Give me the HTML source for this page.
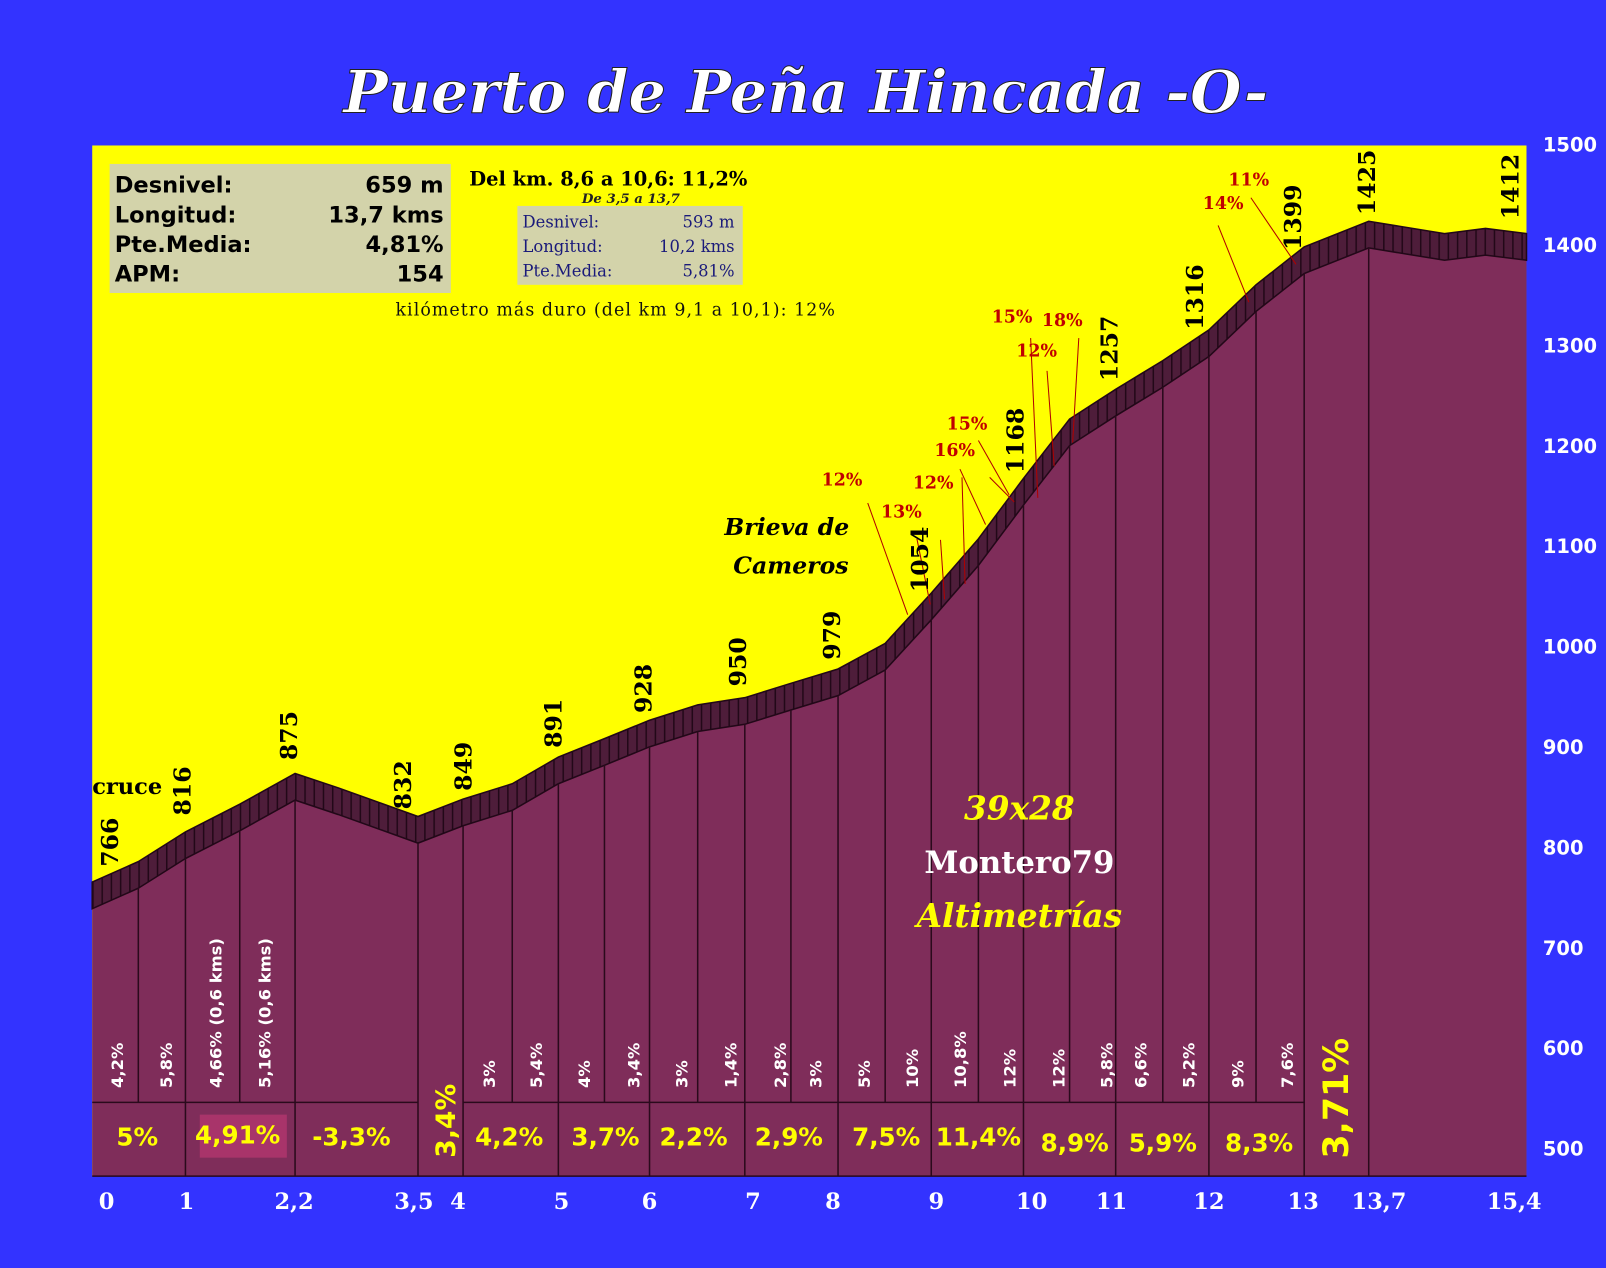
<!DOCTYPE html>
<html><head><meta charset="utf-8"><style>
html,body{margin:0;padding:0;background:#3333ff;}
svg{display:block}
</style></head><body>
<svg width="1606" height="1268" viewBox="0 0 1567.6 1237.7" xmlns="http://www.w3.org/2000/svg">
<defs>
<pattern id="st" width="9" height="40" patternUnits="userSpaceOnUse">
<rect width="9" height="40" fill="#4e1d3a"/><rect width="1.5" height="40" fill="#220818"/>
</pattern>
</defs>
<rect width="1568" height="1238" fill="#3333ff"/>
<text x="335" y="110" textLength="903" lengthAdjust="spacingAndGlyphs" font-family="DejaVu Serif,serif" font-weight="bold" font-style="italic" font-size="58" fill="#fff" stroke="#222" stroke-width="1">Puerto de Peña Hincada -O-</text>
<rect x="90" y="142" width="1400" height="1006" fill="#ffff00"/>
<polygon fill="#7f2d5a" points="90,861 135,841 181,812 234,785 288,755 330,769 408,797 452,780 500,765 545,739 590,721 634,703 681,688 727,681 772,667 818,653 864,628 909,579 955,526 999,467 1044,409 1089,380 1135,352 1180,322 1226,278 1273,241 1336,216 1410,228 1450,223 1490,228 1490,1148 90,1148"/>
<polygon fill="url(#st)" stroke="#220818" stroke-width="1.5" points="90,861 135,841 181,812 234,785 288,755 330,769 408,797 452,780 500,765 545,739 590,721 634,703 681,688 727,681 772,667 818,653 864,628 909,579 955,526 999,467 1044,409 1089,380 1135,352 1180,322 1226,278 1273,241 1336,216 1410,228 1450,223 1490,228 1490,254 1450,249 1410,254 1336,242 1273,267 1226,304 1180,348 1135,378 1089,406 1044,435 999,493 955,552 909,605 864,654 818,679 772,693 727,707 681,714 634,729 590,747 545,765 500,791 452,806 408,823 330,795 288,781 234,811 181,838 135,867 90,887"/>
<g stroke="#2a0a1c" stroke-width="1.5">
<line x1="135" y1="867" x2="135" y2="1076"/><line x1="181" y1="838" x2="181" y2="1148"/>
<line x1="234" y1="811" x2="234" y2="1076"/><line x1="288" y1="781" x2="288" y2="1148"/>
<line x1="408" y1="823" x2="408" y2="1148"/><line x1="452" y1="806" x2="452" y2="1148"/>
<line x1="500" y1="791" x2="500" y2="1076"/><line x1="545" y1="765" x2="545" y2="1148"/>
<line x1="590" y1="747" x2="590" y2="1076"/><line x1="634" y1="729" x2="634" y2="1148"/>
<line x1="681" y1="714" x2="681" y2="1076"/><line x1="727" y1="707" x2="727" y2="1148"/>
<line x1="772" y1="693" x2="772" y2="1076"/><line x1="818" y1="679" x2="818" y2="1148"/>
<line x1="864" y1="654" x2="864" y2="1076"/><line x1="909" y1="605" x2="909" y2="1148"/>
<line x1="955" y1="552" x2="955" y2="1076"/><line x1="999" y1="493" x2="999" y2="1148"/>
<line x1="1044" y1="435" x2="1044" y2="1076"/><line x1="1089" y1="406" x2="1089" y2="1148"/>
<line x1="1135" y1="378" x2="1135" y2="1076"/><line x1="1180" y1="348" x2="1180" y2="1148"/>
<line x1="1226" y1="304" x2="1226" y2="1076"/><line x1="1273" y1="267" x2="1273" y2="1148"/>
<line x1="1336" y1="242" x2="1336" y2="1148"/>
<line x1="90" y1="1076" x2="408" y2="1076"/><line x1="452" y1="1076" x2="1273" y2="1076"/>
<line x1="90" y1="1148" x2="1490" y2="1148"/>
</g>
<rect x="195" y="1088" width="85" height="42" fill="#a8346a"/>
<rect x="107" y="160" width="333" height="126" fill="#d3d3aa"/>
<g font-family="DejaVu Sans,sans-serif" font-weight="bold" font-size="22" fill="#000">
<text x="112" y="188">Desnivel:</text><text x="433" y="188" text-anchor="end">659 m</text>
<text x="112" y="217">Longitud:</text><text x="433" y="217" text-anchor="end">13,7 kms</text>
<text x="112" y="246">Pte.Media:</text><text x="433" y="246" text-anchor="end">4,81%</text>
<text x="112" y="275">APM:</text><text x="433" y="275" text-anchor="end">154</text>
</g>
<g font-family="DejaVu Serif,serif" fill="#000">
<text x="458" y="181" font-size="19" font-weight="bold">Del km. 8,6 a 10,6:   11,2%</text>
<text x="568" y="198" font-size="13" font-style="italic" font-weight="bold" fill="#222">De 3,5 a 13,7</text>
<rect x="505" y="201" width="220" height="77" fill="#d3d3aa"/>
<g fill="#1a1a7a" font-size="16"><text x="510" y="222">Desnivel:</text><text x="717" y="222" text-anchor="end">593 m</text>
<text x="510" y="246">Longitud:</text><text x="717" y="246" text-anchor="end">10,2 kms</text>
<text x="510" y="270">Pte.Media:</text><text x="717" y="270" text-anchor="end">5,81%</text></g>
<text x="386" y="308" font-size="17" fill="#111" textLength="429">kilómetro más duro (del km 9,1 a 10,1): 12%</text>
<text x="768" y="522" text-anchor="middle" font-size="23" font-weight="bold" font-style="italic">Brieva de</text>
<text x="772" y="560" text-anchor="middle" font-size="23" font-weight="bold" font-style="italic">Cameros</text>
<text x="90" y="775" font-size="22" font-weight="bold">cruce</text>
<text x="995" y="800" text-anchor="middle" font-size="32" font-weight="bold" font-style="italic" fill="#ffff00">39x28</text>
<text x="995" y="852" text-anchor="middle" font-size="30" font-weight="bold" fill="#fff">Montero79</text>
<text x="995" y="905" text-anchor="middle" font-size="32" font-weight="bold" font-style="italic" fill="#ffff00">Altimetrías</text>
</g>
<g stroke="#b00000" stroke-width="1" fill="none">
<line x1="847" y1="491" x2="886" y2="600"/><line x1="895" y1="526" x2="908" y2="590"/><line x1="918" y1="527" x2="922" y2="585"/><line x1="939" y1="466" x2="942" y2="570"/><line x1="937" y1="458" x2="962" y2="512"/><line x1="966" y1="466" x2="990" y2="490"/><line x1="955" y1="430" x2="985" y2="483"/><line x1="1006" y1="330" x2="1013" y2="486"/><line x1="1022" y1="362" x2="1029" y2="455"/><line x1="1053" y1="330" x2="1047" y2="432"/><line x1="1189" y1="220" x2="1219" y2="295"/><line x1="1221" y1="193" x2="1265" y2="258"/>
</g>
<g font-family="DejaVu Serif,serif" font-weight="bold" font-size="17" fill="#c00000">
<text x="802" y="474">12%</text><text x="860" y="505">13%</text><text x="891" y="477">12%</text><text x="912" y="445">16%</text><text x="924" y="419">15%</text><text x="968" y="315">15%</text><text x="992" y="348">12%</text><text x="1017" y="318">18%</text><text x="1174" y="204">14%</text><text x="1199" y="181">11%</text>
</g>
<g font-family="DejaVu Serif,serif" font-weight="bold" font-size="23" fill="#000">
<text transform="translate(115,846) rotate(-90)">766</text>
<text transform="translate(186,796) rotate(-90)">816</text>
<text transform="translate(290,742) rotate(-90)">875</text>
<text transform="translate(401,790) rotate(-90)">832</text>
<text transform="translate(460,772) rotate(-90)">849</text>
<text transform="translate(548,730) rotate(-90)">891</text>
<text transform="translate(636,696) rotate(-90)">928</text>
<text transform="translate(728,670) rotate(-90)">950</text>
<text transform="translate(820,644) rotate(-90)">979</text>
<text transform="translate(906,578) rotate(-90)">1054</text>
<text transform="translate(999,462) rotate(-90)">1168</text>
<text transform="translate(1091,372) rotate(-90)">1257</text>
<text transform="translate(1174,322) rotate(-90)">1316</text>
<text transform="translate(1270,244) rotate(-90)">1399</text>
<text transform="translate(1342,210) rotate(-90)">1425</text>
<text transform="translate(1482,214) rotate(-90)">1412</text>
</g>
<g font-family="DejaVu Sans,sans-serif" font-weight="bold" font-size="16" fill="#fff">
<text transform="translate(120,1062) rotate(-90)">4,2%</text>
<text transform="translate(168,1062) rotate(-90)">5,8%</text>
<text transform="translate(216,1062) rotate(-90)">4,66% (0,6 kms)</text>
<text transform="translate(264,1062) rotate(-90)">5,16% (0,6 kms)</text>
<text transform="translate(483,1062) rotate(-90)">3%</text>
<text transform="translate(529,1062) rotate(-90)">5,4%</text>
<text transform="translate(576,1062) rotate(-90)">4%</text>
<text transform="translate(624,1062) rotate(-90)">3,4%</text>
<text transform="translate(671,1062) rotate(-90)">3%</text>
<text transform="translate(719,1062) rotate(-90)">1,4%</text>
<text transform="translate(767,1062) rotate(-90)">2,8%</text>
<text transform="translate(802,1062) rotate(-90)">3%</text>
<text transform="translate(849,1062) rotate(-90)">5%</text>
<text transform="translate(896,1062) rotate(-90)">10%</text>
<text transform="translate(943,1062) rotate(-90)">10,8%</text>
<text transform="translate(991,1062) rotate(-90)">12%</text>
<text transform="translate(1039,1062) rotate(-90)">12%</text>
<text transform="translate(1086,1062) rotate(-90)">5,8%</text>
<text transform="translate(1119,1062) rotate(-90)">6,6%</text>
<text transform="translate(1166,1062) rotate(-90)">5,2%</text>
<text transform="translate(1214,1062) rotate(-90)">9%</text>
<text transform="translate(1262,1062) rotate(-90)">7,6%</text>
</g>
<g font-family="DejaVu Sans,sans-serif" font-weight="bold" font-size="24" fill="#ffff00" text-anchor="middle">
<text x="134" y="1118">5%</text><text x="232" y="1116">4,91%</text><text x="343" y="1118">-3,3%</text>
<text x="497" y="1118">4,2%</text><text x="591" y="1118">3,7%</text><text x="677" y="1118">2,2%</text><text x="770" y="1118">2,9%</text><text x="865" y="1118">7,5%</text><text x="955" y="1118">11,4%</text><text x="1049" y="1124">8,9%</text><text x="1135" y="1124">5,9%</text><text x="1229" y="1124">8,3%</text>
<text transform="translate(444,1094) rotate(-90)" font-size="26">3,4%</text>
<text transform="translate(1316,1072) rotate(-90)" font-size="34">3,71%</text>
</g>
<g font-family="DejaVu Sans,sans-serif" font-weight="bold" font-size="19" fill="#fff">
<text x="1506" y="148">1500</text><text x="1506" y="246">1400</text><text x="1506" y="344">1300</text><text x="1506" y="442">1200</text><text x="1506" y="540">1100</text><text x="1506" y="638">1000</text><text x="1506" y="736">900</text><text x="1506" y="834">800</text><text x="1506" y="932">700</text><text x="1506" y="1030">600</text><text x="1506" y="1128">500</text>
</g>
<g font-family="DejaVu Serif,serif" font-weight="bold" font-size="22" fill="#fff" text-anchor="middle">
<text x="104" y="1180">0</text><text x="182" y="1180">1</text><text x="287" y="1180">2,2</text><text x="404" y="1180">3,5</text><text x="447" y="1180">4</text><text x="548" y="1180">5</text><text x="634" y="1180">6</text><text x="735" y="1180">7</text><text x="813" y="1180">8</text><text x="914" y="1180">9</text><text x="1007" y="1180">10</text><text x="1085" y="1180">11</text><text x="1180" y="1180">12</text><text x="1272" y="1180">13</text><text x="1346" y="1180">13,7</text><text x="1478" y="1180">15,4</text>
</g>
</svg>
</body></html>
